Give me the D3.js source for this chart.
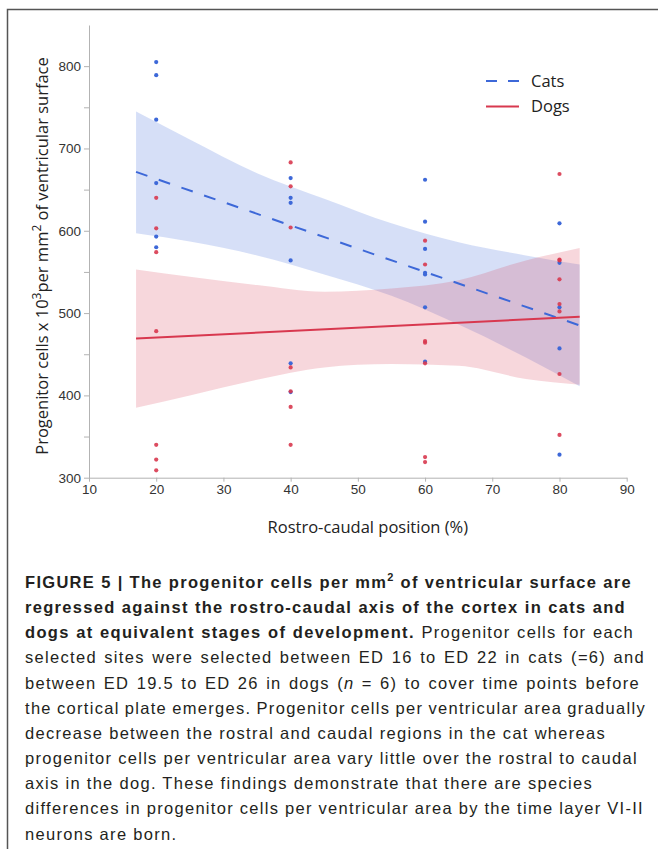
<!DOCTYPE html>
<html>
<head>
<meta charset="utf-8">
<script src="https://cdn.jsdelivr.net/npm/d3@7"></script>
<style>
  body { margin: 0; background: #fff; }
  svg { display: block; }
  .tick text { font-family: "Liberation Sans", Arial, sans-serif; font-size: 13.5px; fill: #333; }
  .axis path, .axis line { stroke: #b3b3b3; }
</style>
</head>
<body>
<svg id="chart"></svg>
<script>
// rostro-caudal sampling positions (%)
const positions = [20, 40, 60, 80];

// progenitor cells x 10^3 per mm^2, one list per position
const catValues = [
    [805, 789, 735, 658, 593, 580],
    [664, 640, 634, 564, 439, 404],
    [662, 611, 578, 549, 547, 507, 441],
    [609, 561, 507, 457, 328]
];
const dogValues = [
    [640, 603, 574, 478, 340, 322, 309],
    [683, 654, 604, 434, 405, 386, 340],
    [588, 559, 466, 464, 439, 325, 319],
    [669, 565, 564, 541, 511, 502, 426, 352]
];

// fitted lines (ends) and confidence bands
const fitX = [17, 83];
const catFit = [671.5, 485];
const dogFit = [469, 495.5];

const bandX = [17, 25, 35, 45, 55, 65, 75, 83];
const catUpper = [745, 711, 670, 639, 609, 586, 570, 559];
const catLower = [597, 587, 570, 547, 521, 486, 446, 411];
const dogUpper = [553, 544, 534, 526, 530, 540, 564, 579];
const dogLower = [385, 400, 419, 434, 438, 436, 420, 413];

const xTicks = [10, 20, 30, 40, 50, 60, 70, 80, 90];
const yTicks = [300, 400, 500, 600, 700, 800];
const yMinorTicks = [350, 450, 550, 650, 750];

const catColor = "#3d68d8";
const dogColor = "#d8384f";

const width = 658, height = 849;

const svg = d3.select("#chart")
    .attr("width", width)
    .attr("height", height);

// frame (top + left only, as in the cropped figure)
svg.append("path")
    .attr("d", `M7.5,${height} L7.5,9.5 L${width},9.5`)
    .attr("fill", "none")
    .attr("stroke", "#555")
    .attr("stroke-width", 1.5);

const x = d3.scaleLinear().domain([10, 90]).range([89, 626.7]);
const y = d3.scaleLinear().domain([300, 850]).range([477.7, 25]);

// bands
function band(upper, lower) {
    return d3.area()
        .x((d, i) => x(bandX[i]))
        .y0((d, i) => y(lower[i]))
        .y1((d, i) => y(upper[i]))
        .curve(d3.curveMonotoneX)(bandX);
}

svg.append("path")
    .attr("d", band(catUpper, catLower))
    .attr("fill", catColor)
    .attr("fill-opacity", 0.21);

svg.append("path")
    .attr("d", band(dogUpper, dogLower))
    .attr("fill", dogColor)
    .attr("fill-opacity", 0.2);

// axes
const xAxis = d3.axisBottom(x).tickValues(xTicks).tickSize(4).tickSizeOuter(0).tickPadding(3);
const yAxis = d3.axisLeft(y).tickValues(yTicks).tickSize(5).tickSizeOuter(0).tickPadding(3);
const yMinor = d3.axisLeft(y).tickValues(yMinorTicks).tickSize(5).tickSizeOuter(0).tickFormat("");

svg.append("g")
    .attr("class", "axis")
    .attr("transform", `translate(0,${y(300)})`)
    .call(xAxis);

svg.append("g")
    .attr("class", "axis")
    .attr("transform", `translate(${x(10)},0)`)
    .call(yAxis);

svg.append("g")
    .attr("class", "axis")
    .attr("transform", `translate(${x(10)},0)`)
    .call(yMinor)
    .select(".domain").remove();

// fit lines
const fitLine = (vals) => d3.line()
    .x((d, i) => x(fitX[i]))
    .y(d => y(d))(vals);

svg.append("path")
    .attr("d", fitLine(catFit))
    .attr("fill", "none")
    .attr("stroke", catColor)
    .attr("stroke-width", 2)
    .attr("stroke-dasharray", "12,12");

svg.append("path")
    .attr("d", fitLine(dogFit))
    .attr("fill", "none")
    .attr("stroke", dogColor)
    .attr("stroke-width", 2);

// points
function flatten(values) {
    let out = [];
    values.forEach((list, i) => list.forEach(v => out.push({ pos: positions[i], v: v })));
    return out;
}

svg.append("g").selectAll("circle")
    .data(flatten(catValues))
    .enter()
    .append("circle")
    .attr("cx", d => x(d.pos))
    .attr("cy", d => y(d.v))
    .attr("r", 2.1)
    .attr("fill", catColor);

svg.append("g").selectAll("circle")
    .data(flatten(dogValues))
    .enter()
    .append("circle")
    .attr("cx", d => x(d.pos))
    .attr("cy", d => y(d.v))
    .attr("r", 2.1)
    .attr("fill", dogColor)
    .attr("fill-opacity", 0.9);

// legend
const legend = svg.append("g").attr("font-family", "'Open Sans', 'Noto Sans', sans-serif").attr("font-size", 16.5);
legend.append("line")
    .attr("x1", 486).attr("x2", 519).attr("y1", 81).attr("y2", 81)
    .attr("stroke", catColor).attr("stroke-width", 2).attr("stroke-dasharray", "11,11");
legend.append("text").attr("x", 531).attr("y", 87).attr("fill", "#222").text("Cats");
legend.append("line")
    .attr("x1", 486).attr("x2", 519).attr("y1", 106.5).attr("y2", 106.5)
    .attr("stroke", dogColor).attr("stroke-width", 2);
legend.append("text").attr("x", 531).attr("y", 112).attr("fill", "#222").text("Dogs");

// axis titles
svg.append("text")
    .attr("x", (x(10) + x(90)) / 2 + 10)
    .attr("y", 533)
    .attr("text-anchor", "middle")
    .attr("font-family", "'Open Sans', 'Noto Sans', sans-serif")
    .attr("font-size", 16.5)
    .attr("fill", "#222")
    .text("Rostro-caudal position (%)");

const yTitle = svg.append("text")
    .attr("transform", `translate(48,${256}) rotate(-90)`)
    .attr("text-anchor", "middle")
    .attr("font-family", "'Open Sans', 'Noto Sans', sans-serif")
    .attr("font-size", 16.5)
    .attr("fill", "#222");
yTitle.append("tspan").text("Progenitor cells x 10");
yTitle.append("tspan").attr("font-size", 12).attr("dy", -7).text("3");
yTitle.append("tspan").attr("dy", 7).text("per mm");
yTitle.append("tspan").attr("font-size", 12).attr("dy", -7).text("2");
yTitle.append("tspan").attr("dy", 7).text(" of ventricular surface");

// caption, one entry per printed line
const captionLines = [
    [["b", "FIGURE 5 | The progenitor cells per mm"], ["bsup", "2"], ["b", " of ventricular surface are"]],
    [["b", "regressed against the rostro-caudal axis of the cortex in cats and"]],
    [["b", "dogs at equivalent stages of development."], ["n", " Progenitor cells for each"]],
    [["n", "selected sites were selected between ED 16 to ED 22 in cats (=6) and"]],
    [["n", "between ED 19.5 to ED 26 in dogs ("], ["i", "n"], ["n", " = 6) to cover time points before"]],
    [["n", "the cortical plate emerges. Progenitor cells per ventricular area gradually"]],
    [["n", "decrease between the rostral and caudal regions in the cat whereas"]],
    [["n", "progenitor cells per ventricular area vary little over the rostral to caudal"]],
    [["n", "axis in the dog. These findings demonstrate that there are species"]],
    [["n", "differences in progenitor cells per ventricular area by the time layer VI-II"]],
    [["n", "neurons are born."]]
];
const captionRight = [632, 626, 634, 645, 640, 646, null, 638, null, 644, null];

const captionLeft = 25;
captionLines.forEach((segs, i) => {
    const t = svg.append("text")
        .attr("x", captionLeft)
        .attr("y", 588 + i * 25.15)
        .attr("font-family", "'Liberation Sans', Arial, sans-serif")
        .attr("font-size", 16.5)
        .attr("letter-spacing", 1.3)
        .attr("fill", "#231f20");
    segs.forEach((s, k) => {
        const sp = t.append("tspan").text(s[1]);
        if (s[0] === "b") sp.attr("font-weight", "bold");
        if (s[0] === "i") sp.attr("font-style", "italic");
        if (s[0] === "bsup") sp.attr("font-weight", "bold").attr("font-size", 11).attr("dy", -7);
        if (k > 0 && segs[k - 1][0] === "bsup") sp.attr("dy", 7);
    });
    if (captionRight[i] !== null) {
        const natural = t.node().getComputedTextLength();
        const spaces = segs.map(s => s[1]).join("").split(" ").length - 1;
        const extra = (captionRight[i] - captionLeft - natural) / spaces;
        t.attr("word-spacing", extra);
    }
});
</script>
</body>
</html>
